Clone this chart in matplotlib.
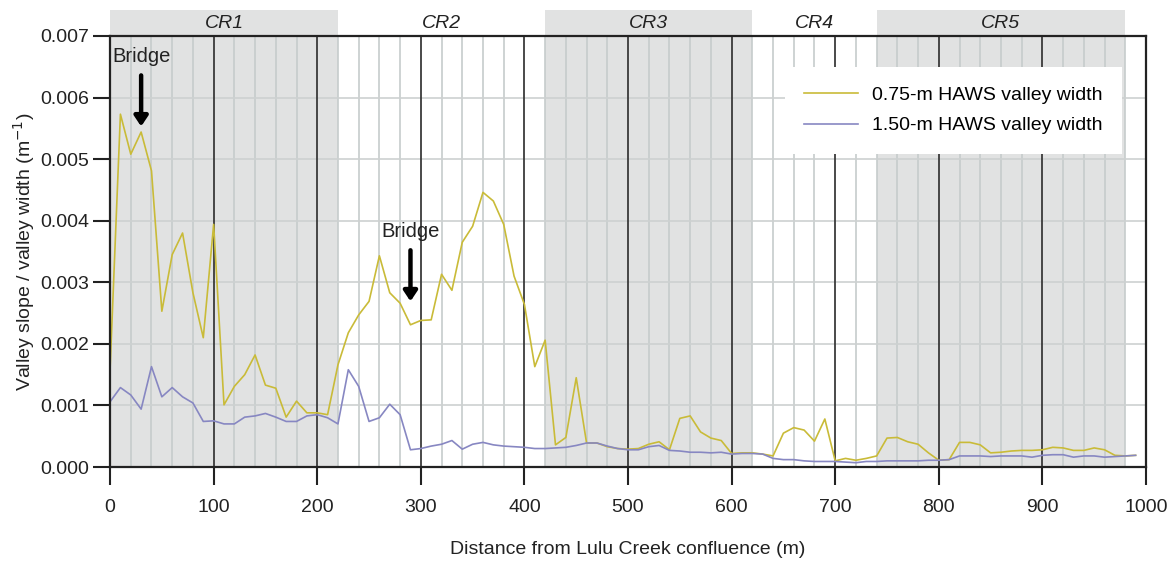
import matplotlib
matplotlib.use("Agg")
import matplotlib.pyplot as plt
import matplotlib.transforms as mtransforms

plt.rcParams["font.family"] = ["Liberation Sans", "DejaVu Sans"]

# Stations along the channel (m from the Lulu Creek confluence)
distance_m = list(range(0, 1000, 10))

# Valley slope / valley width from the 0.75-m HAWS valley width
ratio_075 = [
    0.00158, 0.00573, 0.00508, 0.00544, 0.00481, 0.00253, 0.00345, 0.00380, 0.00283, 0.00210,
    0.00394, 0.00101, 0.00131, 0.00150, 0.00182, 0.00133, 0.00128, 0.00081, 0.00107, 0.00088,
    0.00088, 0.00085, 0.00166, 0.00218, 0.00247, 0.00269, 0.00343, 0.00283, 0.00266, 0.00231,
    0.00238, 0.00239, 0.00313, 0.00287, 0.00365, 0.00391, 0.00446, 0.00432, 0.00394, 0.00310,
    0.00264, 0.00163, 0.00206, 0.00036, 0.00048, 0.00145, 0.00039, 0.00039, 0.00033, 0.00030,
    0.00029, 0.00030, 0.00037, 0.00041, 0.00028, 0.00079, 0.00083, 0.00057, 0.00047, 0.00043,
    0.00022, 0.00023, 0.00023, 0.00021, 0.00018, 0.00055, 0.00064, 0.00060, 0.00042, 0.00078,
    0.00010, 0.00014, 0.00011, 0.00014, 0.00018, 0.00047, 0.00048, 0.00041, 0.00037, 0.00023,
    0.00011, 0.00012, 0.00040, 0.00040, 0.00036, 0.00023, 0.00024, 0.00026, 0.00027, 0.00027,
    0.00028, 0.00032, 0.00031, 0.00027, 0.00027, 0.00031, 0.00028, 0.00019, 0.00018, 0.00019,
]

# Valley slope / valley width from the 1.50-m HAWS valley width
ratio_150 = [
    0.00106, 0.00129, 0.00117, 0.00094, 0.00163, 0.00114, 0.00129, 0.00114, 0.00104, 0.00074,
    0.00075, 0.00070, 0.00070, 0.00081, 0.00083, 0.00087, 0.00081, 0.00074, 0.00074, 0.00083,
    0.00085, 0.00080, 0.00070, 0.00158, 0.00131, 0.00074, 0.00080, 0.00102, 0.00085, 0.00028,
    0.00030, 0.00034, 0.00037, 0.00043, 0.00029, 0.00037, 0.00040, 0.00036, 0.00034, 0.00033,
    0.00032, 0.00030, 0.00030, 0.00031, 0.00032, 0.00035, 0.00039, 0.00039, 0.00034, 0.00030,
    0.00028, 0.00028, 0.00033, 0.00035, 0.00027, 0.00026, 0.00024, 0.00024, 0.00023, 0.00024,
    0.00021, 0.00022, 0.00022, 0.00021, 0.00014, 0.00012, 0.00012, 0.00010, 0.00009, 0.00009,
    0.00009, 0.00008, 0.00007, 0.00009, 0.00009, 0.00010, 0.00010, 0.00010, 0.00010, 0.00011,
    0.00011, 0.00012, 0.00018, 0.00018, 0.00018, 0.00017, 0.00018, 0.00018, 0.00018, 0.00016,
    0.00019, 0.00020, 0.00020, 0.00016, 0.00018, 0.00018, 0.00016, 0.00017, 0.00018, 0.00019,
]

# Channel reaches and their extents (m)
reach_names = ["CR1", "CR2", "CR3", "CR4", "CR5"]
reach_edges = [0, 220, 420, 620, 740, 980]
reach_shaded = [True, False, True, False, True]

# Bridge crossings (m) and the height of their labels
bridge_m = [30, 290]
bridge_label_y = [0.00667, 0.00383]

fig = plt.figure(figsize=(11.72, 5.71), dpi=100)
ax = fig.add_axes([0.0939, 0.1821, 0.8839, 0.7549])

# Reach shading, continued above the frame as a header band
band = mtransforms.blended_transform_factory(ax.transData, ax.transAxes)
for name, x0, x1, shaded in zip(reach_names, reach_edges[:-1], reach_edges[1:], reach_shaded):
    if shaded:
        ax.add_patch(plt.Rectangle((x0, 0), x1 - x0, 1.06, transform=band,
                                   facecolor="#e1e2e2", edgecolor="none",
                                   zorder=0, clip_on=False))
    ax.text((x0 + x1) / 2, 1.028, name, transform=band, ha="center", va="center",
            fontsize=14, fontstyle="italic", color="#222222")

# Grid: light every 20 m and 0.001, dark every 100 m
for x in range(20, 1000, 20):
    if x % 100:
        ax.axvline(x, color="#c6cccc", lw=1.2, zorder=1)
for x in range(100, 1000, 100):
    ax.axvline(x, color="#3a3a3a", lw=1.3, zorder=1.5)
for y in [0.001, 0.002, 0.003, 0.004, 0.005, 0.006]:
    ax.axhline(y, color="#cdd1d1", lw=1.2, zorder=1)

ax.plot(distance_m, ratio_075, color="#c9bb38", lw=1.2, zorder=3,
        label="0.75-m HAWS valley width")
ax.plot(distance_m, ratio_150, color="#8787c2", lw=1.2, zorder=3,
        label="1.50-m HAWS valley width")

# Bridge markers
for bx, ly in zip(bridge_m, bridge_label_y):
    ax.text(bx, ly, "Bridge", ha="center", va="center", fontsize=14.5,
            color="#222222", zorder=5)
    ax.annotate("", xy=(bx, ly - 0.00114), xytext=(bx, ly - 0.00031),
                arrowprops=dict(arrowstyle="-|>,head_length=0.6,head_width=0.4",
                                lw=3.2, color="black", shrinkA=0, shrinkB=0),
                zorder=5)

ax.set_xlim(0, 1000)
ax.set_ylim(0, 0.007)
ax.set_xticks(range(0, 1001, 100))
ax.set_yticks([0.000, 0.001, 0.002, 0.003, 0.004, 0.005, 0.006, 0.007])
ax.set_yticklabels(["0.000", "0.001", "0.002", "0.003", "0.004", "0.005",
                    "0.006", "0.007"])
ax.tick_params(axis="x", direction="out", length=13, width=1.5, pad=10,
               labelsize=14, colors="#222222")
ax.tick_params(axis="y", direction="out", length=12, width=1.5, pad=3,
               labelsize=14, colors="#222222")
for side in ax.spines.values():
    side.set_linewidth(1.6)
    side.set_color("#222222")
    side.set_zorder(6)

ax.set_xlabel("Distance from Lulu Creek confluence (m)", fontsize=14,
              color="#222222", labelpad=18)
ax.set_ylabel("Valley slope / valley width (m$^{-1}$)", fontsize=14,
              color="#222222", labelpad=2)

leg = ax.legend(loc="upper right", bbox_to_anchor=(0.9768, 0.928),
                fontsize=14, frameon=True, fancybox=False, framealpha=1,
                edgecolor="none", handlelength=2.8, handletextpad=0.7,
                labelspacing=0.65, borderpad=1.0, borderaxespad=0)
leg.set_zorder(4)

fig.savefig("out.png", dpi=100, facecolor="white")
